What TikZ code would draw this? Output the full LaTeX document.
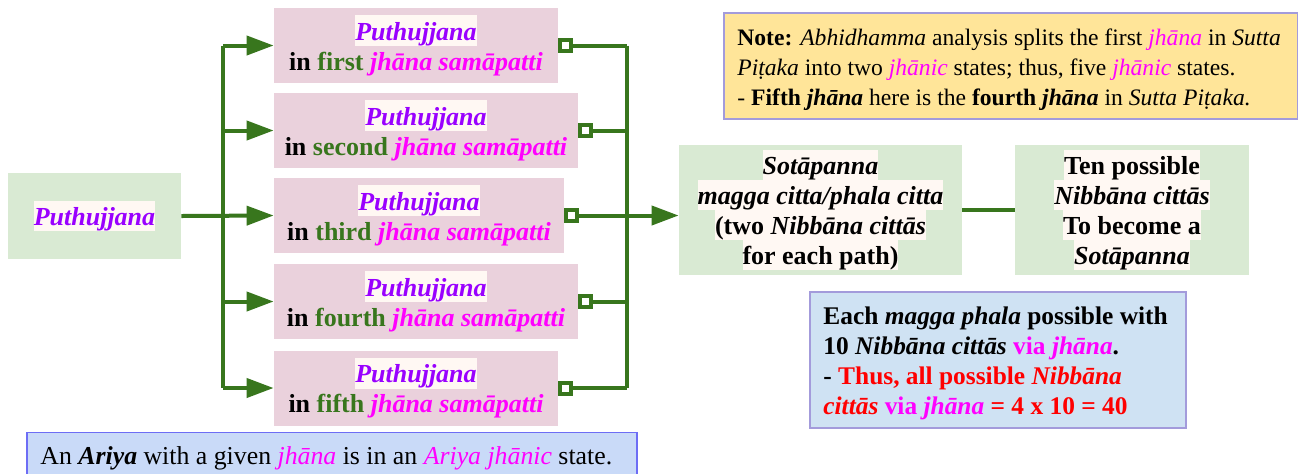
\documentclass[tikz,border=0pt]{standalone}
\usepackage{fontspec}
\setmainfont{Liberation Serif}
\usetikzlibrary{arrows.meta}
\definecolor{gline}{HTML}{38761D}
\definecolor{dgreen}{HTML}{38761D}
\definecolor{pinkc}{HTML}{EAD1DC}
\definecolor{greenc}{HTML}{D9EAD3}
\definecolor{notec}{HTML}{FFE599}
\definecolor{notebd}{HTML}{A39BDB}
\definecolor{rboxc}{HTML}{CFE2F3}
\definecolor{bboxc}{HTML}{C9DAF8}
\definecolor{bboxbd}{HTML}{6D6DF5}
\definecolor{purp}{HTML}{9900FF}
\definecolor{mag}{HTML}{FF00FF}
\definecolor{redc}{HTML}{FF0000}
\definecolor{hlc}{HTML}{FFF8F3}
\newcommand\hlt[1]{{\setlength\fboxsep{0pt}\colorbox{hlc}{\rule[-3pt]{0pt}{15.3pt}#1}}}
\newcommand\pj{\hlt{\textcolor{purp}{\textbf{\textit{Puthujjana}}}}}
\newcommand\js{\textcolor{mag}{\textbf{\textit{jhāna samāpatti}}}}
\newcommand\mj[1]{\textcolor{mag}{\textit{#1}}}
\newcommand\tightlines{\lineskiplimit=-20pt\relax\lineskip=0pt\relax}
\begin{document}
\begin{tikzpicture}[x=0.5pt,y=-0.5pt,
  bigtxt/.style={font=\fontsize{13}{15}\selectfont\bfseries\tightlines},
  pbox/.style={fill=pinkc, minimum height=37.5pt, inner sep=0pt, align=center, bigtxt},
  gbox/.style={fill=greenc, inner sep=0pt, align=center, bigtxt},
  gl/.style={draw=gline, line width=2pt},
  garr/.style={gl, -{Triangle[length=13.5pt,width=9.5pt]}},
  gsq/.style={gl, {Square[open,length=7.5pt,width=7.5pt]}-},
  gsqarr/.style={gl, {Square[open,length=7.5pt,width=7.5pt]}-{Triangle[length=13.5pt,width=9.5pt]}},
  notebox/.style={fill=notec, draw=notebd, line width=0.8pt, inner sep=0pt},
  rbox/.style={fill=rboxc, draw=notebd, line width=0.8pt, inner sep=0pt},
  bbox/.style={fill=bboxc, draw=bboxbd, line width=0.8pt, inner sep=0pt},
  txt/.style={inner sep=0pt, align=left}
]
\clip (0,0) rectangle (1298,473);
\fill[white] (0,0) rectangle (1298,473);

% left node
\node[gbox, minimum width=86.5pt, minimum height=43pt] (L) at (94.5,216) {\pj};

% pink boxes
\node[pbox, minimum width=142pt] (b1) at (416,45.5) {\pj\\in \textcolor{dgreen}{first} \js};
\node[pbox, minimum width=152pt] (b2) at (426,130.5) {\pj\\in \textcolor{dgreen}{second} \js};
\node[pbox, minimum width=145pt] (b3) at (419,215.5) {\pj\\in \textcolor{dgreen}{third} \js};
\node[pbox, minimum width=152pt] (b4) at (426,301.5) {\pj\\in \textcolor{dgreen}{fourth} \js};
\node[pbox, minimum width=142pt] (b5) at (416,388) {\pj\\in \textcolor{dgreen}{fifth} \js};

% green boxes
\node[gbox, minimum width=141.5pt, minimum height=65pt] (S) at (820.5,210)
  {\hlt{\textit{Sotāpanna}}\\\hlt{\textit{magga citta/phala citta}}\\\hlt{(two \textit{Nibbāna cittās}}\\\hlt{for each path)}};
\node[gbox, minimum width=117pt, minimum height=65pt] (T) at (1132,210)
  {\hlt{Ten possible}\\\hlt{\textit{Nibbāna cittās}}\\\hlt{To become a}\\\hlt{\textit{Sotāpanna}}};

% note box
\node[notebox, minimum width=287pt, minimum height=53pt] (N) at (1011,66) {};
\node[txt, anchor=north west, font=\fontsize{11.8}{15}\selectfont] (Nt) at (737,28)
  {\textbf{Note:} \textit{Abhidhamma} analysis splits the first \mj{jhāna} in \textit{Sutta}\\
   \textit{Piṭaka} into two \mj{jhānic} states; thus, five \mj{jhānic} states.\\
   - \textbf{Fifth \textit{jhāna}} here is the \textbf{fourth \textit{jhāna}} in \textit{Sutta Piṭaka.}};

% right blue box
\node[rbox, minimum width=188pt, minimum height=68pt] (R) at (998,360) {};
\node[txt, anchor=north west, font=\fontsize{12.7}{15}\selectfont\bfseries] (Rt) at (823,306)
  {Each \textit{magga phala} possible with\\
   10 \textit{Nibbāna cittās} \textcolor{mag}{via \textit{jhāna}}.\\
   - \textcolor{redc}{Thus, all possible \textit{Nibbāna}}\\
   \textcolor{redc}{\textit{cittās}} \textcolor{mag}{via \textit{jhāna}} \textcolor{redc}{= 4 x 10 = 40}};

% bottom box
\node[bbox, minimum width=305pt, minimum height=28.5pt] (B) at (332,461) {};
\node[inner sep=0pt, anchor=base west, font=\fontsize{12.9}{15}\selectfont] (Bt) at (40,464)
  {An \textbf{\textit{Ariya}} with a given \mj{jhāna} is in an \mj{Ariya jhānic} state.};

% left bus
\coordinate (j1) at (223,45.5);
\coordinate (j2) at (223,130.5);
\coordinate (j4) at (223,301.5);
\coordinate (j5) at (223,388);
\draw[gl] (j1) -- (j5);
\draw[garr] (L.east) -- (b3.west);
\draw[garr] (j1) -- (b1.west);
\draw[garr] (j2) -- (b2.west);
\draw[garr] (j4) -- (b4.west);
\draw[garr] (j5) -- (b5.west);

% right bus
\coordinate (k1) at (627,45.5);
\coordinate (k2) at (627,130.5);
\coordinate (k4) at (627,301.5);
\coordinate (k5) at (627,388);
\draw[gl] (k1) -- (k5);
\draw[gsq] (b1.east) -- (k1);
\draw[gsq] (b2.east) -- (k2);
\draw[gsq] (b4.east) -- (k4);
\draw[gsq] (b5.east) -- (k5);
\draw[gsqarr] (b3.east) -- (S.west |- b3.east);

% S to T
\draw[gl] (S.east) -- (T.west);
\end{tikzpicture}
\end{document}
